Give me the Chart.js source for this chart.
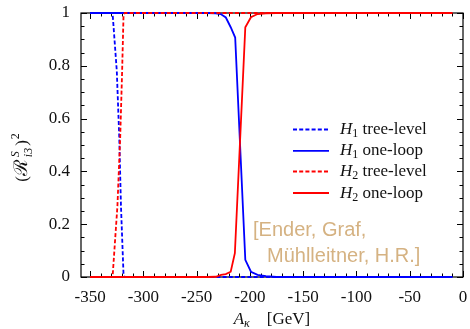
<!DOCTYPE html>
<html><head><meta charset="utf-8">
<script src="https://cdn.jsdelivr.net/npm/chart.js@4"></script>
<style>html,body{margin:0;padding:0;background:#fff}canvas{display:block}</style>
</head><body>
<canvas id="c" width="470" height="329"></canvas>
<script>
// ---- data ----
const xH1Tree = [-350, -329.5, -328.7, -324.9, -322.6, -321.0, -318.6, -317.5, -10];
const h1Tree  = [1, 1, 0.99, 0.78, 0.53, 0.27, 0.01, 0, 0];
const xH2Tree = [-350, -329.5, -328.7, -324.3, -321.7, -319.9, -318.6, -317.5, -10];
const h2Tree  = [0, 0, 0.01, 0.27, 0.53, 0.78, 0.99, 1, 1];
const xH1Loop = [-350, -240, -232, -227.4, -222.6, -218, -213.8, -204.3, -199, -192.8, -185, -175, -10];
const h1Loop  = [1, 1, 0.999, 0.996, 0.983, 0.946, 0.907, 0.065, 0.02, 0.008, 0.003, 0, 0];
const xH2Loop = [-350, -240, -232, -227, -222.6, -218, -214.1, -204.3, -199, -192.8, -185, -175, -10];
const h2Loop  = [0, 0, 0.001, 0.008, 0.011, 0.02, 0.09, 0.946, 0.984, 0.996, 0.999, 1, 1];
const xTickValues = [-350, -300, -250, -200, -150, -100, -50, 0];
const yTickValues = [0, 0.2, 0.4, 0.6, 0.8, 1];
const seriesNames = [['H','1',' tree-level'], ['H','1',' one-loop'], ['H','2',' tree-level'], ['H','2',' one-loop']];
const seriesColors = ['#0000ff', '#0000ff', '#ff0000', '#ff0000'];
const seriesDashed = [true, false, true, false];
const creditLines = ['[Ender, Graf,', 'Mühlleitner, H.R.]'];

const SERIF = '"Liberation Serif", "Times New Roman", serif';
const SANS = '"Liberation Sans", Arial, sans-serif';
const DASH = [4, 2.2];

function pts(xs, ys) { return xs.map((x, i) => ({x: x, y: ys[i]})); }
const seriesData = [pts(xH1Tree, h1Tree), pts(xH1Loop, h1Loop), pts(xH2Tree, h2Tree), pts(xH2Loop, h2Loop)];

const datasets = seriesData.map((d, i) => ({
  label: seriesNames[i].join(''),
  data: d,
  showLine: true,
  borderColor: seriesColors[i],
  backgroundColor: seriesColors[i],
  borderWidth: 1.8,
  borderDash: seriesDashed[i] ? DASH : [],
  pointRadius: 0,
  tension: 0,
  clip: 4,
  order: 3 - i
}));

const framePlugin = {
  id: 'frame',
  beforeDatasetsDraw(chart) {
    const {ctx, chartArea: a, scales: {x, y}} = chart;
    ctx.save();
    ctx.strokeStyle = '#000';
    ctx.lineWidth = 1.2;
    ctx.strokeRect(a.left, a.top, a.right - a.left, a.bottom - a.top);
    ctx.lineWidth = 1;
    ctx.beginPath();
    for (let v = -350; v <= 0; v += 10) {
      const px = Math.round(x.getPixelForValue(v)) + 0.5;
      const len = (v % 50 === 0) ? 6 : 3.5;
      ctx.moveTo(px, a.bottom); ctx.lineTo(px, a.bottom - len);
      ctx.moveTo(px, a.top); ctx.lineTo(px, a.top + len);
    }
    for (let i = 0; i <= 20; i++) {
      const py = Math.round(y.getPixelForValue(i * 0.05)) + 0.5;
      const len = (i % 4 === 0) ? 6 : 3.5;
      ctx.moveTo(a.left, py); ctx.lineTo(a.left + len, py);
      ctx.moveTo(a.right, py); ctx.lineTo(a.right - len, py);
    }
    ctx.stroke();
    ctx.restore();
  }
};

function drawMath(ctx, x, y, parts) {
  let cx = x;
  for (const p of parts) {
    ctx.font = p[1];
    ctx.fillText(p[0], cx, y + (p[2] || 0));
    cx += ctx.measureText(p[0]).width + (p[3] || 0);
  }
  return cx - x;
}
function measureMath(ctx, parts) {
  let w = 0;
  for (const p of parts) { ctx.font = p[1]; w += ctx.measureText(p[0]).width + (p[3] || 0); }
  return w;
}

const textPlugin = {
  id: 'texts',
  afterDatasetsDraw(chart) {
    const {ctx, chartArea: a} = chart;
    ctx.save();
    ctx.textBaseline = 'alphabetic';
    ctx.textAlign = 'left';
    // legend
    const legY = [129.5, 150.8, 171.5, 193];
    for (let i = 0; i < 4; i++) {
      ctx.strokeStyle = seriesColors[i];
      ctx.lineWidth = 1.8;
      ctx.setLineDash(seriesDashed[i] ? DASH : []);
      ctx.beginPath();
      ctx.moveTo(293, legY[i]); ctx.lineTo(329, legY[i]);
      ctx.stroke();
      ctx.setLineDash([]);
      ctx.fillStyle = '#111';
      const n = seriesNames[i];
      drawMath(ctx, 340, legY[i] + 4.5, [
        [n[0], 'italic 17px ' + SERIF, 0, 0],
        [n[1], '12px ' + SERIF, 3, 0],
        [n[2], '17px ' + SERIF, 0, 0]
      ]);
    }
    // credit
    ctx.fillStyle = '#d5b282';
    ctx.font = '20px ' + SANS;
    ctx.fillText(creditLines[0], 253, 236);
    ctx.fillText(creditLines[1], 267, 262);
    // x title
    ctx.fillStyle = '#111';
    const xParts = [['A', 'italic 17px ' + SERIF, 0, 0], ['κ', 'italic 12px ' + SERIF, 3, 0], ['    [GeV]', '17px ' + SERIF, 0, 0]];
    const xw = measureMath(ctx, xParts);
    drawMath(ctx, (a.left + a.right) / 2 - xw / 2, 324, xParts);
    // y title (rotated)
    ctx.font = '17px ' + SERIF; const wP = ctx.measureText('(').width;
    ctx.font = '19px ' + SERIF; const wR = ctx.measureText('ℛ').width;
    ctx.font = 'italic 12px ' + SERIF; const wS = ctx.measureText('S').width;
    ctx.font = 'italic 12px ' + SERIF; const wI = ctx.measureText('i3').width;
    ctx.font = '17px ' + SERIF; const wQ = ctx.measureText(')').width;
    ctx.font = '12px ' + SERIF; const w2 = ctx.measureText('2').width;
    const total = wP + wR + 2 + Math.max(wS, wI) + 2 + wQ + 1 + w2;
    ctx.translate(27, 157.5);
    ctx.rotate(-Math.PI / 2);
    let cx = -total / 2;
    ctx.font = '17px ' + SERIF; ctx.fillText('(', cx, 0); cx += wP;
    ctx.font = '19px ' + SERIF; ctx.fillText('ℛ', cx, 0); cx += wR + 2;
    ctx.font = 'italic 12px ' + SERIF; ctx.fillText('S', cx, -8);
    ctx.font = 'italic 12px ' + SERIF; ctx.fillText('i3', cx, 4.5);
    cx += Math.max(wS, wI) + 2;
    ctx.font = '17px ' + SERIF; ctx.fillText(')', cx, 0); cx += wQ + 1;
    ctx.font = '12px ' + SERIF; ctx.fillText('2', cx, -8);
    ctx.restore();
  }
};

new Chart(document.getElementById('c'), {
  type: 'scatter',
  data: {datasets: datasets},
  options: {
    responsive: false,
    animation: false,
    devicePixelRatio: 1,
    layout: {padding: {top: 13, right: 7, left: 0, bottom: 0}},
    plugins: {legend: {display: false}, tooltip: {enabled: false}},
    scales: {
      x: {
        type: 'linear', min: -358.5, max: 0,
        afterBuildTicks: s => { s.ticks = xTickValues.map(v => ({value: v})); },
        afterFit: s => { s.height = 52; s.paddingLeft = 0; s.paddingRight = 0; s.paddingTop = 0; s.paddingBottom = 0; },
        grid: {display: false, drawTicks: false},
        border: {display: false},
        ticks: {font: {family: SERIF, size: 17}, color: '#111', padding: 10, maxRotation: 0, autoSkip: false,
                callback: v => String(v)}
      },
      y: {
        type: 'linear', min: 0, max: 1,
        afterBuildTicks: s => { s.ticks = yTickValues.map(v => ({value: v})); },
        afterFit: s => { s.width = 81; s.paddingLeft = 0; s.paddingRight = 0; s.paddingTop = 0; s.paddingBottom = 0; },
        grid: {display: false, drawTicks: false},
        border: {display: false},
        ticks: {font: {family: SERIF, size: 17}, color: '#111', padding: 11, autoSkip: false,
                callback: v => String(v)}
      }
    }
  },
  plugins: [framePlugin, textPlugin]
});
</script>
</body></html>
